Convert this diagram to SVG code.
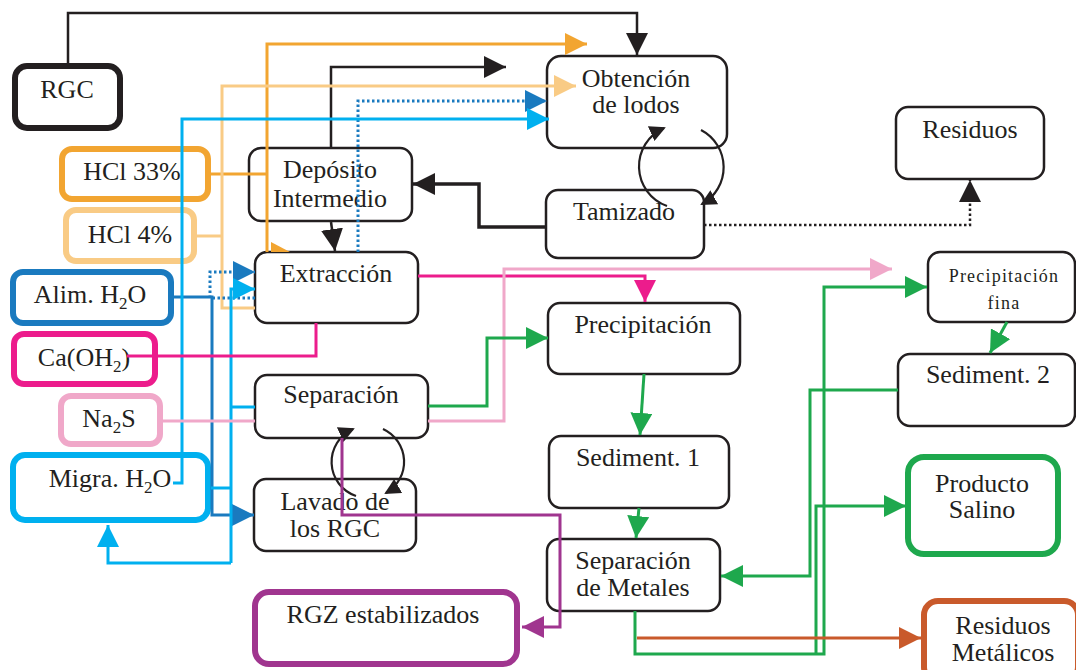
<svg xmlns="http://www.w3.org/2000/svg" width="1076" height="670" viewBox="0 0 1076 670">
<style>
text{font-family:"Liberation Serif","Times New Roman",serif;font-size:26px;fill:#231f20;text-anchor:middle}
.sm{font-size:18px;letter-spacing:1.2px}
.sub{font-size:17px}
.box{fill:#fff;stroke:#231f20;stroke-width:2.5}
.thick{fill:#fff;stroke-width:6}
.c{fill:none;stroke-width:3;stroke-linejoin:miter}
.k{stroke:#231f20;stroke-width:2.5}
.or{stroke:#f2a531}
.lo{stroke:#f9cb85}
.bl{stroke:#1a7abf}
.cy{stroke:#00b0ef}
.mg{stroke:#ec1c8c}
.pk{stroke:#f0a8c9}
.gr{stroke:#1ea84d}
.pu{stroke:#a0358f}
.br{stroke:#c95a2b}
.dot{stroke-dasharray:2.5 2.5}
</style>
<defs>
<marker id="ak" viewBox="0 0 22 22" refX="22" refY="11" markerWidth="22" markerHeight="22" markerUnits="userSpaceOnUse" orient="auto"><path d="M0,0 L22,11 L0,22 z" fill="#231f20"/></marker>
<marker id="aks" viewBox="0 0 16 16" refX="14" refY="8" markerWidth="16" markerHeight="16" markerUnits="userSpaceOnUse" orient="auto"><path d="M0,0 L16,8 L0,16 z" fill="#231f20"/></marker>
<marker id="aor" viewBox="0 0 22 22" refX="22" refY="11" markerWidth="22" markerHeight="22" markerUnits="userSpaceOnUse" orient="auto"><path d="M0,0 L22,11 L0,22 z" fill="#f2a531"/></marker>
<marker id="alo" viewBox="0 0 22 22" refX="22" refY="11" markerWidth="22" markerHeight="22" markerUnits="userSpaceOnUse" orient="auto"><path d="M0,0 L22,11 L0,22 z" fill="#f9cb85"/></marker>
<marker id="abl" viewBox="0 0 22 22" refX="22" refY="11" markerWidth="22" markerHeight="22" markerUnits="userSpaceOnUse" orient="auto"><path d="M0,0 L22,11 L0,22 z" fill="#1a7abf"/></marker>
<marker id="acy" viewBox="0 0 22 22" refX="22" refY="11" markerWidth="22" markerHeight="22" markerUnits="userSpaceOnUse" orient="auto"><path d="M0,0 L22,11 L0,22 z" fill="#00b0ef"/></marker>
<marker id="amg" viewBox="0 0 22 22" refX="22" refY="11" markerWidth="22" markerHeight="22" markerUnits="userSpaceOnUse" orient="auto"><path d="M0,0 L22,11 L0,22 z" fill="#ec1c8c"/></marker>
<marker id="apk" viewBox="0 0 22 22" refX="22" refY="11" markerWidth="22" markerHeight="22" markerUnits="userSpaceOnUse" orient="auto"><path d="M0,0 L22,11 L0,22 z" fill="#f0a8c9"/></marker>
<marker id="agr" viewBox="0 0 22 22" refX="22" refY="11" markerWidth="22" markerHeight="22" markerUnits="userSpaceOnUse" orient="auto"><path d="M0,0 L22,11 L0,22 z" fill="#1ea84d"/></marker>
<marker id="apu" viewBox="0 0 22 22" refX="22" refY="11" markerWidth="22" markerHeight="22" markerUnits="userSpaceOnUse" orient="auto"><path d="M0,0 L22,11 L0,22 z" fill="#a0358f"/></marker>
<marker id="abr" viewBox="0 0 22 22" refX="22" refY="11" markerWidth="22" markerHeight="22" markerUnits="userSpaceOnUse" orient="auto"><path d="M0,0 L22,11 L0,22 z" fill="#c95a2b"/></marker>
</defs>
<rect width="1076" height="670" fill="#fff"/>

<g id="rgc"><rect x="15" y="66" width="105" height="62" rx="12" class="thick" stroke="#231f20"/><text x="67" y="98">RGC</text></g>
<g id="obtencion"><rect x="547" y="56" width="180" height="92" rx="14" class="box"/><text x="636" y="87">Obtención</text><text x="636" y="113">de lodos</text></g>
<g id="deposito"><rect x="249" y="148" width="163" height="73" rx="12" class="box"/><text x="330" y="178">Depósito</text><text x="330" y="207">Intermedio</text></g>
<g id="tamizado"><rect x="546" y="190" width="158" height="68" rx="12" class="box"/><text x="624" y="220">Tamizado</text></g>
<g id="residuos"><rect x="896" y="107" width="148" height="72" rx="12" class="box"/><text x="970" y="138">Residuos</text></g>
<g id="extraccion"><rect x="255" y="252" width="163" height="71" rx="12" class="box"/><text x="336" y="282">Extracción</text></g>
<g id="separacion"><rect x="255" y="375" width="173" height="63" rx="12" class="box"/><text x="341" y="403">Separación</text></g>
<g id="lavado"><rect x="254" y="479" width="162" height="72" rx="12" class="box"/><text x="335" y="510">Lavado de</text><text x="335" y="537">los RGC</text></g>
<g id="rgz"><rect x="255" y="592" width="262" height="72" rx="14" class="thick" stroke="#a0358f"/><text x="383" y="623">RGZ estabilizados</text></g>
<g id="precipitacion"><rect x="548" y="303" width="192" height="71" rx="12" class="box"/><text x="643" y="333">Precipitación</text></g>
<g id="sediment1"><rect x="549" y="436" width="180" height="72" rx="12" class="box"/><text x="638" y="466">Sediment. 1</text></g>
<g id="sepmetales"><rect x="547" y="539" width="173" height="72" rx="12" class="box"/><text x="633" y="569">Separación</text><text x="633" y="596">de Metales</text></g>
<g id="producto"><rect x="908" y="457" width="150" height="97" rx="16" class="thick" stroke="#1ea84d"/><text x="982" y="492">Producto</text><text x="982" y="518">Salino</text></g>
<g id="resmetalicos"><rect x="924" y="601" width="154" height="80" rx="14" class="thick" stroke="#c95a2b"/><text x="1003" y="634">Residuos</text><text x="1003" y="661">Metálicos</text></g>
<g id="precfina"><rect x="928" y="252" width="147" height="70" rx="12" class="box"/><text x="1004" y="282" class="sm">Precipitación</text><text x="1004" y="309" class="sm">fina</text></g>
<g id="sediment2"><rect x="898" y="354" width="177" height="72" rx="12" class="box"/><text x="988" y="383">Sediment. 2</text></g>
<g id="hcl33"><rect x="62" y="149" width="146" height="50" rx="10" class="thick" stroke="#f2a531"/><text x="132" y="180">HCl 33%</text></g>
<g id="hcl4"><rect x="66" y="210" width="128" height="51" rx="10" class="thick" stroke="#f9cb85"/><text x="130" y="243">HCl 4%</text></g>
<g id="alim"><rect x="13" y="272" width="158" height="51" rx="10" class="thick" stroke="#1a7abf"/><text x="90" y="303">Alim. H<tspan class="sub" dy="6">2</tspan><tspan dy="-6">O</tspan></text></g>
<g id="caoh"><rect x="14" y="334" width="141" height="50" rx="10" class="thick" stroke="#ec1c8c"/><text x="84" y="366">Ca(OH<tspan class="sub" dy="6">2</tspan><tspan dy="-6">)</tspan></text></g>
<g id="na2s"><rect x="61" y="396" width="99" height="48" rx="10" class="thick" stroke="#f0a8c9"/><text x="109" y="427">Na<tspan class="sub" dy="6">2</tspan><tspan dy="-6">S</tspan></text></g>
<g id="migra"><rect x="13" y="455" width="195" height="65" rx="12" class="thick" stroke="#00b0ef"/><text x="110" y="487">Migra. H<tspan class="sub" dy="6">2</tspan><tspan dy="-6">O</tspan></text></g>

<g id="connectors">
<path class="c k" d="M68,66 V13 H637 V55" marker-end="url(#ak)"/>
<path class="c k" d="M331,148 V67 H506" marker-end="url(#ak)"/>
<path class="c k" d="M331,222 L335,251" marker-end="url(#ak)"/>
<path class="c k" style="stroke-width:3.5" d="M546,227 H479 V184 H413" marker-end="url(#ak)"/>
<path class="c k dot" d="M704,225 H970 V180" marker-end="url(#ak)"/>
<path class="c k" style="stroke-width:2.2" d="M701,130 A42 42 0 0 1 702,204" marker-end="url(#aks)"/>
<path class="c k" style="stroke-width:2.2" d="M667,206 A42 42 0 0 1 664,128" marker-end="url(#aks)"/>
<path class="c k" style="stroke-width:2.2" d="M383,429 A36 36 0 0 1 386,493" marker-end="url(#aks)"/>
<path class="c k" style="stroke-width:2.2" d="M356,496 A36 36 0 0 1 353,429" marker-end="url(#aks)"/>
<path class="c or" d="M208,174 H267"/>
<path class="c or" d="M267,252 V44 H587" marker-end="url(#aor)"/>
<polygon points="271,242 290,252 271,252" fill="#f2a531"/>
<path class="c lo" d="M194,236 H222"/>
<path class="c lo" d="M255,308 H222 V86 H576" marker-end="url(#alo)"/>
<path class="c bl" d="M171,297 H212 V515 H254" marker-end="url(#abl)"/>
<path class="c bl dot" d="M255,298 H210 V272 H255" marker-end="url(#abl)"/>
<path class="c bl dot" d="M358,252 V101 H547" marker-end="url(#abl)"/>
<path class="c cy" d="M173,483 H182 V119 H549" marker-end="url(#acy)"/>
<path class="c cy" d="M211,488 H231"/>
<path class="c cy" d="M231,407 H255"/>
<path class="c cy" d="M231,563 V289 H255" marker-end="url(#acy)"/>
<path class="c cy" d="M231,563 H108 V525" marker-end="url(#acy)"/>
<path class="c mg" d="M127,356 H316 V323"/>
<path class="c mg" d="M418,276 H645 V302" marker-end="url(#amg)"/>
<path class="c pk" d="M160,421 H255"/>
<path class="c pk" d="M428,421 H504 V269 H892" marker-end="url(#apk)"/>
<path class="c gr" d="M428,406 H487 V338 H548" marker-end="url(#agr)"/>
<path class="c gr" d="M644,374 L640,435" marker-end="url(#agr)"/>
<path class="c gr" d="M639,508 L636,538" marker-end="url(#agr)"/>
<path class="c gr" d="M1007,322 L990,353" marker-end="url(#agr)"/>
<path class="c gr" d="M898,390 H810 V576 H721" marker-end="url(#agr)"/>
<path class="c gr" d="M635,611 V654 H824 V287 H927" marker-end="url(#agr)"/>
<path class="c gr" d="M816,654 V506 H906" marker-end="url(#agr)"/>
<path class="c br" d="M637,638 H921" marker-end="url(#abr)"/>
<path class="c pu" d="M342,438 V515 H560 V627 H522" marker-end="url(#apu)"/>
</g>
</svg>
